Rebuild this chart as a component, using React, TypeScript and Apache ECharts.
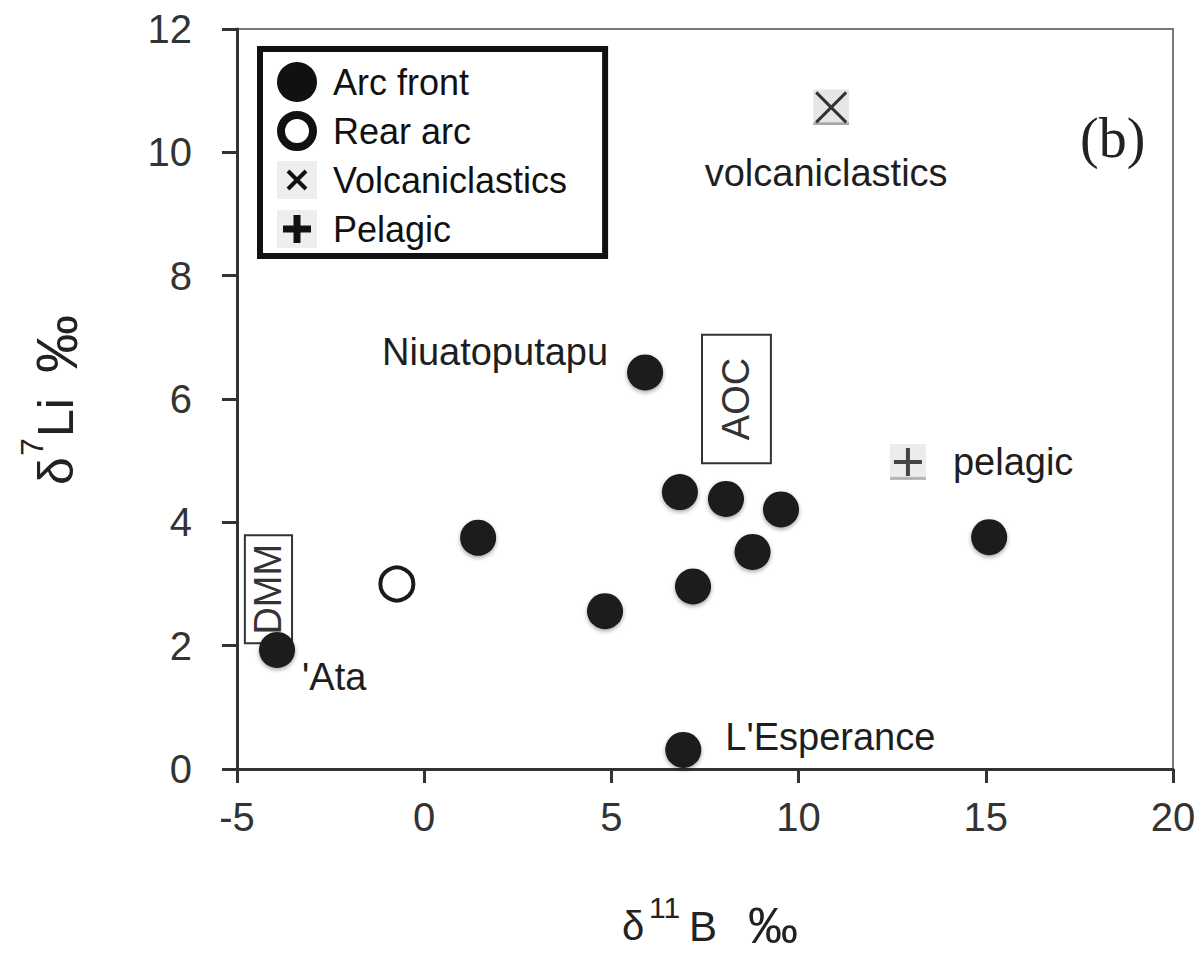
import React, { useEffect, useRef } from 'react';
import * as echarts from 'echarts';

// δ11B (‰) and δ7Li (‰) for Tonga arc lavas and subducting sediments
const arcFront: number[][] = [
  [1.44, 3.75],
  [4.83, 2.56],
  [5.9, 6.43],
  [6.83, 4.49],
  [8.06, 4.38],
  [9.53, 4.21],
  [8.77, 3.52],
  [7.18, 2.96],
  [15.09, 3.76],
  [-3.93, 1.93],
  [6.92, 0.31],
];
const arcFrontSites: string[] = ['', '', 'Niuatoputapu', '', '', '', '', '', '', "'Ata", "L'Esperance"];
const rearArc: number[][] = [[-0.73, 3.0]];
const volcaniclastics: number[][] = [[10.87, 10.73]];
const pelagic: number[][] = [[12.92, 4.98]];

// Reservoir fields: [δ11B min, δ7Li min, δ11B max, δ7Li max]
const reservoirNames: string[] = ['AOC', 'DMM'];
const reservoirFields: number[][] = [
  [7.42, 4.96, 9.26, 7.04],
  [-4.79, 2.04, -3.53, 3.79],
];

const xTicks = { min: -5, max: 20, interval: 5 };
const yTicks = { min: 0, max: 12, interval: 2 };

const SANS = '"Liberation Sans", Arial, Helvetica, sans-serif';
const SERIF = '"Liberation Serif", "Times New Roman", serif';
const INK = '#1a1a1a';

const img = (svg: string) => 'image://data:image/svg+xml;charset=utf-8,' + encodeURIComponent(svg);

const crossMarker = img(
  "<svg xmlns='http://www.w3.org/2000/svg' width='36' height='36' viewBox='0 0 36 36'>" +
    "<rect x='0' y='0' width='36' height='36' fill='#e6e6e6'/>" +
    "<rect x='0' y='33' width='36' height='3' fill='#a8a8a8'/>" +
    "<path d='M3 3 L33 33 M33 3 L3 33' stroke='#333' stroke-width='3' fill='none'/></svg>"
);
const plusMarker = img(
  "<svg xmlns='http://www.w3.org/2000/svg' width='36' height='36' viewBox='0 0 36 36'>" +
    "<rect x='0' y='0' width='36' height='36' fill='#ececec'/>" +
    "<rect x='0' y='33' width='36' height='3' fill='#b4b4b4'/>" +
    "<path d='M4 18 L32 18 M18 4 L18 32' stroke='#444' stroke-width='4' fill='none'/></svg>"
);
const rearLegendIcon = img(
  "<svg xmlns='http://www.w3.org/2000/svg' width='40' height='40' viewBox='0 0 40 40'>" +
    "<circle cx='20' cy='20' r='16' fill='#fff' stroke='#111' stroke-width='8'/></svg>"
);
const crossLegendIcon = img(
  "<svg xmlns='http://www.w3.org/2000/svg' width='40' height='40' viewBox='0 0 40 40'>" +
    "<rect x='0' y='1' width='40' height='38' fill='#eeeeee'/>" +
    "<path d='M11 11 L29 29 M29 11 L11 29' stroke='#111' stroke-width='4' fill='none'/></svg>"
);
const plusLegendIcon = img(
  "<svg xmlns='http://www.w3.org/2000/svg' width='40' height='40' viewBox='0 0 40 40'>" +
    "<rect x='0' y='1' width='40' height='38' fill='#eeeeee'/>" +
    "<path d='M6 20 L34 20 M20 6 L20 34' stroke='#111' stroke-width='7' fill='none'/></svg>"
);

const siteLabelStyle = { fontSize: 38, fontFamily: SANS, color: '#1e1e1e' };

const siteLabelPlacement: Record<string, any> = {
  Niuatoputapu: { position: 'left', distance: 19, offset: [0, -20] },
  "'Ata": { position: 'right', distance: 7, offset: [0, 27] },
  "L'Esperance": { position: 'right', distance: 24, offset: [0, -13] },
};

export default function App() {
  const ref = useRef<HTMLDivElement>(null);

  useEffect(() => {
    if (!ref.current) return;
    const chart = echarts.init(ref.current, undefined, { renderer: 'svg' });

    const arcFrontData = arcFront.map((v, i) => {
      const name = arcFrontSites[i];
      if (!name) return { value: v };
      return {
        value: v,
        label: { show: true, formatter: name, ...siteLabelStyle, ...siteLabelPlacement[name] },
      };
    });

    chart.setOption({
      animation: false,
      backgroundColor: '#fff',
      grid: {
        left: 237,
        right: 30,
        top: 29,
        bottom: 189,
        show: true,
        borderColor: '#777',
        borderWidth: 2,
        backgroundColor: 'transparent',
      },
      xAxis: {
        type: 'value',
        min: xTicks.min,
        max: xTicks.max,
        interval: xTicks.interval,
        splitLine: { show: false },
        axisLine: { show: true, onZero: false, lineStyle: { color: '#333', width: 3 } },
        axisTick: { show: true, inside: false, length: 14, lineStyle: { color: '#333', width: 3 } },
        axisLabel: { margin: 28, fontSize: 40, fontFamily: SANS, color: '#333' },
      },
      yAxis: {
        type: 'value',
        min: yTicks.min,
        max: yTicks.max,
        interval: yTicks.interval,
        splitLine: { show: false },
        axisLine: { show: true, onZero: false, lineStyle: { color: '#333', width: 3 } },
        axisTick: { show: true, inside: false, length: 15, lineStyle: { color: '#333', width: 3 } },
        axisLabel: { margin: 45, fontSize: 40, fontFamily: SANS, color: '#333' },
      },
      legend: {
        orient: 'vertical',
        left: 260,
        top: 49,
        itemWidth: 40,
        itemHeight: 40,
        itemGap: 9,
        padding: [13, 38, 7, 17],
        borderColor: '#111',
        borderWidth: 6,
        backgroundColor: '#fff',
        selectedMode: false,
        textStyle: { fontSize: 36, fontFamily: SANS, color: '#111', padding: [0, 0, 0, 11] },
        data: [
          {
            name: 'Arc front',
            icon: 'circle',
            itemStyle: { color: '#111', opacity: 1, borderWidth: 0, shadowBlur: 0, shadowOffsetY: 0 },
          },
          { name: 'Rear arc', icon: rearLegendIcon, itemStyle: { opacity: 1 } },
          { name: 'Volcaniclastics', icon: crossLegendIcon, itemStyle: { opacity: 1 } },
          { name: 'Pelagic', icon: plusLegendIcon, itemStyle: { opacity: 1 } },
        ],
      },
      graphic: [
        {
          type: 'text',
          left: 1080,
          top: 110,
          style: { text: '(b)', font: `56px ${SERIF}`, fill: '#222' },
          z: 10,
        },
        // x-axis title: δ11B ‰
        {
          type: 'group',
          children: [
            { type: 'text', x: 622, y: 926, style: { text: 'δ', font: `40px ${SANS}`, fill: '#222', verticalAlign: 'middle' } },
            { type: 'text', x: 649, y: 907, style: { text: '11', font: `30px ${SANS}`, fill: '#222', verticalAlign: 'middle' } },
            { type: 'text', x: 689, y: 926, style: { text: 'B', font: `42px ${SANS}`, fill: '#222', verticalAlign: 'middle' } },
            { type: 'text', x: 748, y: 926, style: { text: '‰', font: `50px ${SANS}`, fill: '#222', verticalAlign: 'middle' } },
          ],
        },
        // y-axis title: δ7Li ‰ (reads bottom to top)
        {
          type: 'group',
          x: 56,
          y: 485,
          rotation: Math.PI / 2,
          children: [
            { type: 'text', x: 0, y: 0, style: { text: 'δ', font: `50px ${SANS}`, fill: '#222', verticalAlign: 'middle' } },
            { type: 'text', x: 29, y: -24, style: { text: '7', font: `32px ${SANS}`, fill: '#222', verticalAlign: 'middle' } },
            { type: 'text', x: 48, y: 0, style: { text: 'Li', font: `50px ${SANS}`, fill: '#222', verticalAlign: 'middle' } },
            { type: 'text', x: 112, y: 0, style: { text: '‰', font: `58px ${SANS}`, fill: '#222', verticalAlign: 'middle' } },
          ],
        },
      ],
      series: [
        {
          name: 'Reservoirs',
          type: 'custom',
          silent: true,
          z: 1,
          data: reservoirFields,
          renderItem: (params: any, api: any) => {
            const p1 = api.coord([api.value(0), api.value(1)]);
            const p2 = api.coord([api.value(2), api.value(3)]);
            const x = Math.min(p1[0], p2[0]);
            const y = Math.min(p1[1], p2[1]);
            const w = Math.abs(p2[0] - p1[0]);
            const h = Math.abs(p2[1] - p1[1]);
            return {
              type: 'group',
              children: [
                {
                  type: 'rect',
                  shape: { x, y, width: w, height: h },
                  style: { fill: '#fff', stroke: '#333', lineWidth: 2 },
                },
                {
                  type: 'text',
                  x: x + w / 2,
                  y: y + h / 2,
                  rotation: Math.PI / 2,
                  style: {
                    text: reservoirNames[params.dataIndex],
                    font: `38px ${SANS}`,
                    fill: '#333',
                    align: 'center',
                    verticalAlign: 'middle',
                  },
                },
              ],
            };
          },
        },
        {
          name: 'Arc front',
          type: 'scatter',
          z: 3,
          symbol: 'circle',
          symbolSize: 36,
          itemStyle: {
            color: INK,
            opacity: 1,
            shadowBlur: 4,
            shadowColor: 'rgba(0,0,0,0.35)',
            shadowOffsetY: 2,
          },
          emphasis: { disabled: true },
          data: arcFrontData,
        },
        {
          name: 'Rear arc',
          type: 'scatter',
          z: 3,
          symbol: 'circle',
          symbolSize: 33,
          itemStyle: { color: '#fff', borderColor: INK, borderWidth: 4, opacity: 1 },
          emphasis: { disabled: true },
          data: rearArc,
        },
        {
          name: 'Volcaniclastics',
          type: 'scatter',
          z: 3,
          symbol: crossMarker,
          symbolSize: 36,
          itemStyle: { opacity: 1 },
          emphasis: { disabled: true },
          data: volcaniclastics,
          label: {
            show: true,
            formatter: 'volcaniclastics',
            position: 'bottom',
            distance: 29,
            offset: [-5, 0],
            ...siteLabelStyle,
          },
        },
        {
          name: 'Pelagic',
          type: 'scatter',
          z: 3,
          symbol: plusMarker,
          symbolSize: 36,
          itemStyle: { opacity: 1 },
          emphasis: { disabled: true },
          data: pelagic,
          label: {
            show: true,
            formatter: 'pelagic',
            position: 'right',
            distance: 27,
            ...siteLabelStyle,
          },
        },
      ],
    });

    return () => chart.dispose();
  }, []);

  return (
    <div
      ref={ref}
      style={{ position: 'absolute', left: 0, top: 0, width: 1203, height: 958, background: '#fff' }}
    />
  );
}
